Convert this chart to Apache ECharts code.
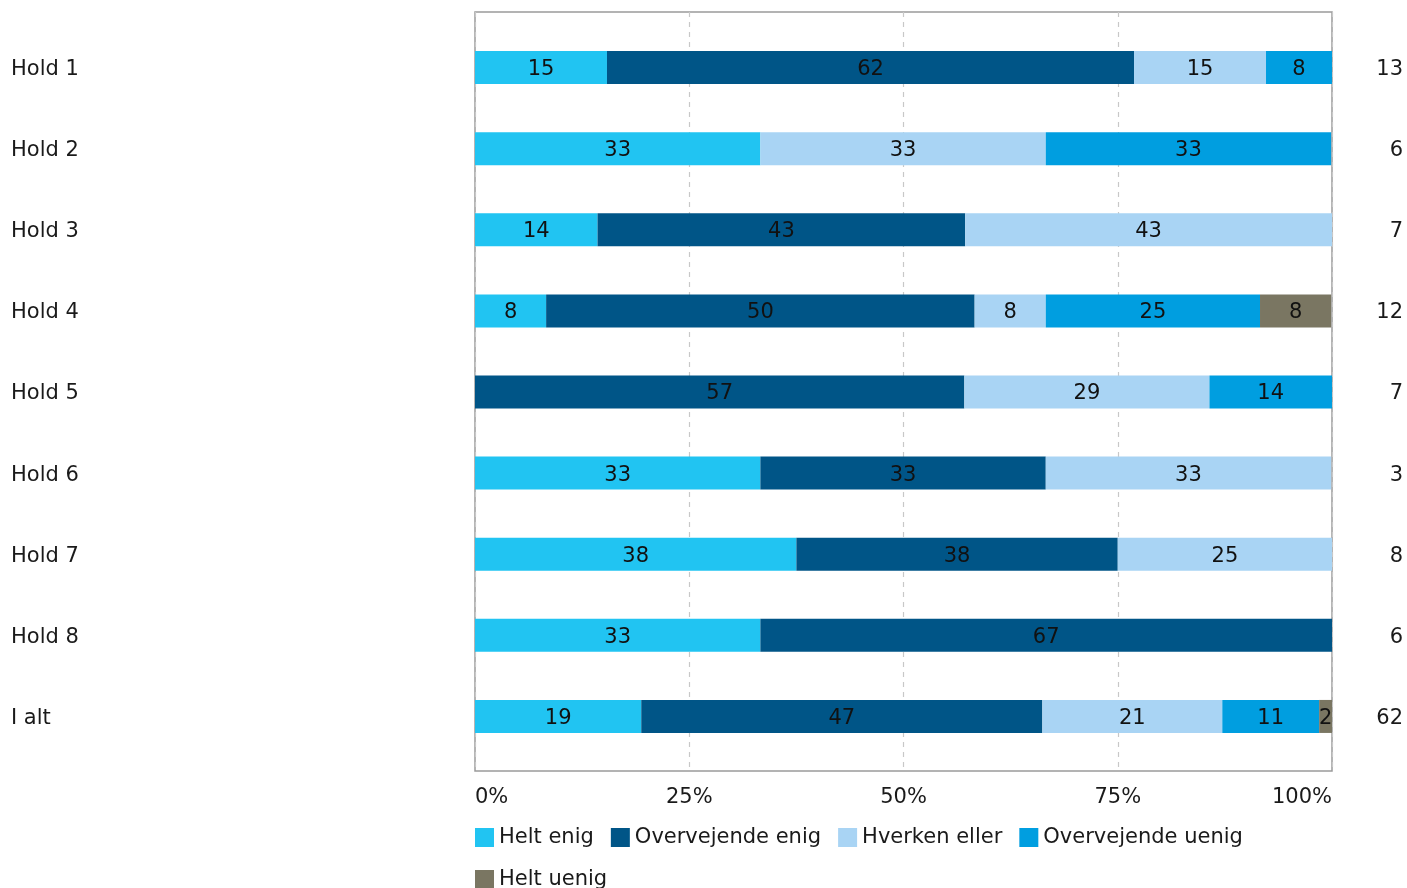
<!DOCTYPE html>
<html><head><meta charset="utf-8">
<script src="https://cdn.jsdelivr.net/npm/echarts@6/dist/echarts.min.js"></script>
<style>html,body{margin:0;padding:0;background:#fff}#c{width:1407px;height:888px}</style>
</head><body><div id="c"></div>
<script>
const categories = ['Hold 1','Hold 2','Hold 3','Hold 4','Hold 5','Hold 6','Hold 7','Hold 8','I alt'];
const counts = ['13','6','7','12','7','3','8','6','62'];
const heltEnig        = [15.4, 33.3, 14.3, 8.3, 0, 33.3, 37.5, 33.3, 19.4];
const overvejendeEnig = [61.5, 0, 42.9, 50.0, 57.1, 33.3, 37.5, 66.7, 46.8];
const hverkenEller    = [15.4, 33.3, 42.9, 8.3, 28.6, 33.3, 25.0, 0, 21.0];
const overvejendeUenig= [7.7, 33.3, 0, 25.0, 14.3, 0, 0, 0, 11.3];
const heltUenig       = [0, 0, 0, 8.3, 0, 0, 0, 0, 1.6];
const xTicks = [0, 25, 50, 75, 100];

const FONT = 'DejaVu Sans, Verdana, sans-serif';
const FS = 21;
const seriesDefs = [
  ['Helt enig', heltEnig, '#21c4f2'],
  ['Overvejende enig', overvejendeEnig, '#005587'],
  ['Hverken eller', hverkenEller, '#a9d4f4'],
  ['Overvejende uenig', overvejendeUenig, '#009ee0'],
  ['Helt uenig', heltUenig, '#7a7662']
];
const richLabel = {t: {fontSize: FS, color: '#1a1a1a', fontFamily: FONT, padding: [4, 0, 0, 0]}};

const chart = echarts.init(document.getElementById('c'));
chart.setOption({
  animation: false,
  textStyle: {fontFamily: FONT},
  grid: [
    {left: 475, right: 75, top: 12, bottom: 117, show: true, borderColor: '#9a9a9a', borderWidth: 1.5, containLabel: false},
    {left: 475, right: 75, top: 27, bottom: 131, containLabel: false}
  ],
  xAxis: [
    {gridIndex: 0, type: 'value', min: 0, max: 100, interval: 25,
     axisLine: {show: false}, axisTick: {show: false},
     splitLine: {show: true, lineStyle: {type: [5, 5], color: '#c8c8c8', width: 1.2}},
     axisLabel: {fontSize: FS, color: '#1a1a1a', margin: 16, fontFamily: FONT,
       alignMinLabel: 'left', alignMaxLabel: 'right',
       formatter: v => xTicks.includes(v) ? v + '%' : ''}},
    {gridIndex: 1, type: 'value', min: 0, max: 100, show: false}
  ],
  yAxis: [
    {gridIndex: 0, type: 'value', show: false},
    {gridIndex: 1, type: 'category', data: categories, inverse: true,
     axisLine: {show: false}, axisTick: {show: false}, splitLine: {show: false},
     axisLabel: {align: 'left', margin: 464, fontSize: FS, color: '#1a1a1a', fontFamily: FONT,
       formatter: v => '{t|' + v + '}', rich: richLabel}},
    {gridIndex: 1, type: 'category', data: counts, inverse: true, position: 'right',
     axisLine: {show: false}, axisTick: {show: false}, splitLine: {show: false},
     axisLabel: {align: 'right', margin: 71, fontSize: FS, color: '#1a1a1a', fontFamily: FONT,
       formatter: v => '{t|' + v + '}', rich: richLabel}}
  ],
  legend: {
    left: 475, top: 825, width: 870, orient: 'horizontal', padding: 0,
    itemWidth: 19, itemHeight: 19, itemGap: 17, icon: 'rect',
    textStyle: {fontSize: FS, color: '#1a1a1a', fontFamily: FONT, lineHeight: 25},
    data: seriesDefs.map(s => s[0])
  },
  series: seriesDefs.map(([name, vals, color]) => ({
    name, type: 'bar', stack: 'total', xAxisIndex: 1, yAxisIndex: 1,
    barWidth: 33, itemStyle: {color},
    label: {show: true, position: 'inside', color: '#111', fontSize: FS, fontFamily: FONT, offset: [0, 2],
      formatter: p => p.value > 0 ? String(Math.round(p.value)) : ''},
    data: vals.map(v => v > 0 ? v : null)
  }))
});
</script></body></html>
